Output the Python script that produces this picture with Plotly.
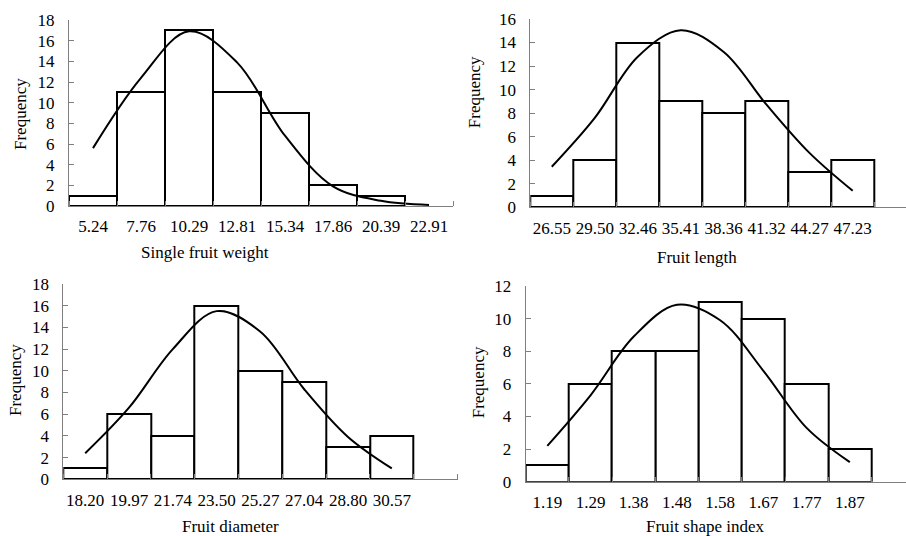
import plotly.graph_objects as go

W, H = 906, 536

# ---------------- data ----------------
weight_labels = ["5.24", "7.76", "10.29", "12.81", "15.34", "17.86", "20.39", "22.91"]
weight_freq = [1, 11, 17, 11, 9, 2, 1, None]
weight_curve = [5.6, 12.4, 16.9, 13.9, 6.8, 1.9, 0.5, 0.1]

length_labels = ["26.55", "29.50", "32.46", "35.41", "38.36", "41.32", "44.27", "47.23"]
length_freq = [1, 4, 14, 9, 8, 9, 3, 4]
length_curve = [3.45, 7.6, 12.8, 15.05, 13.2, 8.7, 4.6, 1.4]

diam_labels = ["18.20", "19.97", "21.74", "23.50", "25.27", "27.04", "28.80", "30.57"]
diam_freq = [1, 6, 4, 16, 10, 9, 3, 4]
diam_curve = [2.4, 6.6, 12.0, 15.5, 13.6, 8.3, 3.9, 1.0]

shape_labels = ["1.19", "1.29", "1.38", "1.48", "1.58", "1.67", "1.77", "1.87"]
shape_freq = [1, 6, 8, 8, 11, 10, 6, 2]
shape_curve = [2.2, 5.3, 8.9, 10.85, 9.9, 6.8, 3.3, 1.2]

FONT = "Liberation Serif, Times New Roman, serif"
FS = 17
AXC = "#7f7f7f"

panels = [
    # labels, freq, curve, xdomain(px), ydomain(px top,bottom), xmax, ymax, xtitle, xt_pos, yt_pos
    (weight_labels, weight_freq, weight_curve, (69, 453), (20, 206), 7.5, 18,
     "Single fruit weight", (205.3, 252.7), (20, 114)),
    (length_labels, length_freq, length_curve, (530.3, 906), (19, 207.3), 8.24, 16,
     "Fruit length", (697, 257), (474.7, 92.5)),
    (diam_labels, diam_freq, diam_curve, (63.3, 457.5), (284, 479.3), 8.5, 18,
     "Fruit diameter", (230.7, 526), (15, 380)),
    (shape_labels, shape_freq, shape_curve, (525.7, 906), (286, 481.7), 8.30, 12,
     "Fruit shape index", (705.3, 526), (478.8, 382.5)),
]

fig = go.Figure()
annotations = []
layout_axes = {}

for i, (labels, freq, curve, xd, yd, xmax, ymax, xtitle, xtp, ytp) in enumerate(panels):
    n = i + 1
    xa = "x" if n == 1 else f"x{n}"
    ya = "y" if n == 1 else f"y{n}"
    xs = list(range(len(labels)))
    fig.add_trace(go.Bar(
        x=xs, y=freq, width=1.0, xaxis=xa, yaxis=ya,
        marker=dict(color="white", line=dict(color="black", width=2)),
        showlegend=False, hoverinfo="skip",
    ))
    fig.add_trace(go.Scatter(
        x=xs, y=curve, mode="lines", xaxis=xa, yaxis=ya,
        line=dict(color="black", width=2, shape="spline", smoothing=1.0),
        showlegend=False, hoverinfo="skip",
    ))
    xkey = "xaxis" if n == 1 else f"xaxis{n}"
    ykey = "yaxis" if n == 1 else f"yaxis{n}"
    layout_axes[xkey] = dict(
        domain=[xd[0] / W, min(xd[1] / W, 1.0)],
        range=[-0.5, xmax],
        anchor=ya,
        tickmode="array", tickvals=xs, ticktext=labels,
        ticks="", showgrid=False, zeroline=False,
        showline=True, linecolor=AXC, linewidth=1,
        tickfont=dict(family=FONT, size=FS, color="black"),
        ticklabelstandoff=5,
        automargin=False,
        minor=dict(tickmode="linear", tick0=0.5, dtick=1, ticks="inside",
                   ticklen=5, tickcolor=AXC, showgrid=False),
        fixedrange=True,
    )
    layout_axes[ykey] = dict(
        domain=[1 - yd[1] / H, 1 - yd[0] / H],
        range=[0, ymax],
        anchor=xa,
        tickmode="linear", tick0=0, dtick=2,
        ticks="inside", ticklen=5, tickcolor=AXC,
        showgrid=False, zeroline=False,
        showline=True, linecolor=AXC, linewidth=1,
        tickfont=dict(family=FONT, size=FS, color="black"),
        ticklabelstandoff=10,
        automargin=False,
        fixedrange=True,
    )
    annotations.append(dict(
        text=xtitle, xref="paper", yref="paper",
        x=xtp[0] / W, y=1 - xtp[1] / H, xanchor="center", yanchor="middle",
        showarrow=False, font=dict(family=FONT, size=FS, color="black"),
    ))
    annotations.append(dict(
        text="Frequency", xref="paper", yref="paper", textangle=-90,
        x=ytp[0] / W, y=1 - ytp[1] / H, xanchor="center", yanchor="middle",
        showarrow=False, font=dict(family=FONT, size=FS, color="black"),
    ))

fig.update_layout(
    width=W, height=H,
    margin=dict(l=0, r=0, t=0, b=0, autoexpand=False),
    paper_bgcolor="white", plot_bgcolor="white",
    bargap=0, showlegend=False,
    annotations=annotations,
    **layout_axes,
)

fig.write_html("out.html")
